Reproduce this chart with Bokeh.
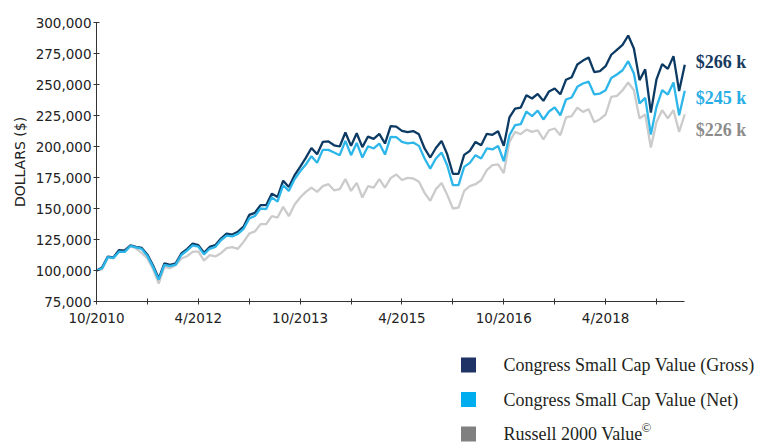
from bokeh.plotting import figure
from bokeh.layouts import column
from bokeh.models import Range1d, FixedTicker, NumeralTickFormatter
from bokeh.core.properties import value
from bokeh.embed import file_html
from bokeh.resources import INLINE

# Monthly values (thousands of dollars), 10/2010 .. 6/2019
gross = [100.0, 102.5, 111.2, 110.6, 116.5, 116.0, 120.3, 119.0, 118.2, 112.8,
         104.0, 93.5, 105.8, 104.6, 105.8, 113.7, 117.3, 121.7, 120.5, 114.3,
         119.0, 120.4, 125.8, 129.8, 129.0, 131.3, 135.3, 144.8, 146.5, 152.7,
         152.7, 162.0, 159.2, 172.4, 167.3, 176.7, 183.6, 190.8, 198.8, 193.7,
         203.7, 204.1, 201.0, 200.0, 211.3, 200.5, 210.7, 199.5, 208.0, 206.2,
         210.2, 202.4, 216.4, 216.0, 212.6, 211.5, 212.4, 209.8, 198.4, 191.1,
         198.8, 204.5, 193.7, 178.0, 178.0, 193.2, 196.5, 203.7, 201.0, 210.2,
         209.4, 212.3, 200.5, 223.5, 230.6, 231.4, 241.4, 238.7, 242.4, 236.8,
         244.4, 246.8, 242.1, 253.8, 255.9, 266.1, 269.3, 271.8, 260.0, 260.8,
         264.8, 274.0, 278.0, 282.0, 289.5, 279.0, 253.5, 262.2, 227.3, 254.2,
         266.5, 262.6, 272.9, 244.7, 266.0]

net = [100.0, 101.8, 110.8, 110.2, 115.2, 115.0, 119.8, 118.6, 117.4, 111.8,
       102.8, 92.6, 104.6, 103.5, 104.8, 112.5, 116.0, 120.2, 119.3, 113.0,
       117.5, 119.0, 124.4, 128.2, 127.5, 129.5, 133.5, 142.0, 144.0, 150.0,
       149.5, 159.0, 155.5, 168.8, 164.2, 173.5, 180.0, 185.5, 192.2, 186.8,
       197.3, 197.3, 195.2, 193.0, 204.5, 193.0, 202.9, 191.1, 200.2, 198.4,
       202.4, 193.5, 207.7, 207.5, 203.7, 202.6, 203.2, 200.5, 190.3, 182.2,
       190.3, 195.2, 184.9, 168.8, 168.8, 183.6, 186.8, 193.0, 190.3, 198.4,
       197.6, 200.5, 188.1, 209.1, 217.2, 218.0, 228.2, 224.5, 229.0, 221.8,
       228.2, 231.6, 225.2, 237.9, 239.5, 248.1, 250.8, 252.3, 242.0, 242.7,
       245.4, 255.3, 258.1, 261.5, 268.8, 258.9, 234.7, 239.2, 209.7, 232.0,
       245.4, 241.9, 251.6, 225.2, 245.0]

russell = [100.0, 101.0, 110.5, 109.7, 115.5, 116.9, 119.6, 117.7, 114.0, 109.7,
           101.0, 89.5, 103.0, 101.8, 104.3, 109.7, 111.5, 115.0, 115.5, 108.0,
           112.4, 111.3, 114.0, 118.0, 118.8, 117.5, 123.1, 129.8, 131.5, 137.4,
           137.4, 143.8, 142.7, 151.3, 143.8, 153.0, 158.9, 163.4, 166.9, 163.4,
           168.0, 169.6, 164.7, 165.6, 173.7, 164.2, 170.7, 158.9, 168.0, 166.9,
           173.7, 166.9, 174.5, 177.4, 173.0, 174.7, 174.2, 171.5, 162.6, 156.2,
           165.6, 170.5, 161.0, 150.0, 150.8, 164.2, 168.0, 169.6, 172.8, 180.9,
           184.9, 185.5, 178.5, 203.7, 211.8, 209.9, 213.7, 211.8, 213.1, 205.7,
           213.1, 214.5, 209.1, 223.4, 224.5, 231.4, 227.9, 230.0, 219.6, 222.0,
           225.8, 240.0, 240.8, 245.4, 251.6, 245.4, 222.6, 225.8, 199.1, 219.8,
           229.3, 222.6, 229.3, 211.8, 226.0]

series_names = ["Congress Small Cap Value (Gross)", "Congress Small Cap Value (Net)", "Russell 2000 Value"]
xtick_pos = [0, 9, 18, 27, 36, 45, 54, 63, 72, 81, 90, 99]
xtick_labels = ["10/2010", "", "4/2012", "", "10/2013", "", "4/2015", "", "10/2016", "", "4/2018", ""]
ytick_vals = [75000, 100000, 125000, 150000, 175000, 200000, 225000, 250000, 275000, 300000]

line_colors = ["#0d3a63", "#2cb6ea", "#cbcbcb"]
label_colors = ["#173a60", "#29aee6", "#8c8c8c"]
square_colors = ["#1f3366", "#00aeef", "#808080"]

x = list(range(len(gross)))
ys = [[v * 1000 for v in s] for s in (gross, net, russell)]

W = 759
H1 = 340
FL, FR, FT, FB = 96, 757, 22, 301          # frame edges in pixels
px_per_month = 5.6566
x_end = (FR - FL) / px_per_month

p = figure(width=W, height=H1, output_backend="svg", toolbar_location=None,
           x_range=Range1d(0, x_end), y_range=Range1d(ytick_vals[0], ytick_vals[-1]),
           min_border_left=FL, min_border_top=FT, min_border_right=W - FR,
           min_border_bottom=H1 - FB)
p.outline_line_color = None
p.xgrid.visible = False
p.ygrid.visible = False

p.line(x, ys[2], line_color=line_colors[2], line_width=2.3)
p.line(x, ys[0], line_color=line_colors[0], line_width=2.3)
p.line(x, ys[1], line_color=line_colors[1], line_width=2.3)

for ax in (p.xaxis[0], p.yaxis[0]):
    ax.axis_line_color = "#333333"
    ax.major_tick_line_color = "#333333"
    ax.minor_tick_line_color = None
    ax.major_label_text_font = "DejaVu Sans"
    ax.major_label_text_font_size = "13.5px"
    ax.major_label_text_color = "#222222"
    ax.major_tick_out = 3
    ax.major_tick_in = 3

p.xaxis.bounds = (x[0], x[-1])

p.yaxis.ticker = FixedTicker(ticks=ytick_vals)
p.yaxis.formatter = NumeralTickFormatter(format="0,0")
p.yaxis.major_label_standoff = 2
p.yaxis.axis_label = "DOLLARS ($)"
p.yaxis.axis_label_text_font = "DejaVu Sans"
p.yaxis.axis_label_text_font_size = "14px"
p.yaxis.axis_label_text_font_style = "normal"
p.yaxis.axis_label_text_color = "#222222"
p.yaxis.axis_label_standoff = 5

p.xaxis.ticker = FixedTicker(ticks=xtick_pos)
p.xaxis.major_label_overrides = {t: lab for t, lab in zip(xtick_pos, xtick_labels)}
p.xaxis.major_label_standoff = 5

# End-of-line value labels
end_vals = [s[-1] for s in ys]
end_text = ["${:d} k".format(round(v / 1000)) for v in end_vals]
p.text(x=[x[-1]] * 3, y=end_vals, text=end_text, x_offset=11, y_offset=[-2.5, 7.5, 16],
       text_font=value("Liberation Serif"), text_font_style="bold", text_font_size="18px",
       text_color=label_colors, text_baseline="middle", text_align="left")

# Legend panel (its frame is aligned with the chart frame by the column layout)
H2 = 105
leg = figure(width=W, height=H2, output_backend="svg", toolbar_location=None,
             x_range=Range1d(FL, FR), y_range=Range1d(H1 + H2, H1), min_border=0,
             min_border_left=FL, min_border_right=W - FR,
             x_axis_type=None, y_axis_type=None)
leg.outline_line_color = None
leg.grid.visible = False
rows = [364.5 + 34.5 * i for i in range(len(series_names))]
leg.rect(x=[468] * 3, y=rows, width=15, height=15, fill_color=square_colors, line_color=None)
leg.text(x=[503] * 3, y=rows, text=series_names, text_font=value("Liberation Serif"),
         text_font_size="18px", text_baseline="middle", text_color="#231f20")
leg.text(x=[641], y=[rows[2] - 7], text=["\u00a9"], text_font=value("Liberation Serif"),
         text_font_size="13px", text_baseline="middle", text_color="#231f20")

layout = column(p, leg, spacing=0)
open("out.html", "w").write(file_html(layout, INLINE))
